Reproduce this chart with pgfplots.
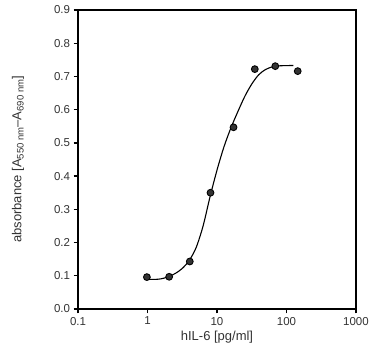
\documentclass[border=0pt]{standalone}
\usepackage{fontspec}
\setmainfont{Liberation Sans}
\usepackage{pgfplots}
\pgfplotsset{compat=1.18}
\definecolor{txt}{HTML}{333333}
\newcommand{\sub}[1]{\raisebox{-0.35ex}{\fontsize{9.5}{11}\selectfont #1}}
\begin{document}
\begin{tikzpicture}
\begin{axis}[
  at={(0,0)}, anchor=south west,
  scale only axis,
  width=278pt, height=299pt,
  xmode=log, log basis x=10,
  xmin=0.1, xmax=1000,
  ymin=0, ymax=0.9,
  xtick={0.1,1,10,100,1000},
  xticklabels={0.1,1,10,100,1000},
  minor xtick={},
  ytick={0,0.1,...,0.9},
  yticklabel style={/pgf/number format/.cd,fixed,fixed zerofill,precision=1},
  /pgf/number format/assume math mode=true,
  tick align=outside,
  xtick pos=bottom, ytick pos=left,
  major tick length=4.5pt,
  axis line style={line width=1.8pt},
  every tick/.style={line width=1.4pt, black},
  tick label style={font=\fontsize{11.5}{13}\selectfont, text=txt},
  label style={font=\fontsize{13}{15}\selectfont, text=txt},
  xlabel={hIL-6 [pg/ml]},
  ylabel={absorbance [A\sub{550 nm}–A\sub{690 nm}]},
  xlabel style={at={(axis description cs:0.5,-0.094)}, anchor=center},
  ylabel style={at={(axis description cs:-0.216,0.5)}, anchor=center},
  clip=false,
]
\addplot[black, line width=1.1pt, smooth, tension=0.5] coordinates {
  (0.92,0.090) (1.259,0.089) (1.585,0.091) (1.995,0.097) (2.512,0.107)
  (3.162,0.122) (3.981,0.146) (5.012,0.185) (6.310,0.250) (7.943,0.338)
  (10,0.418) (12.59,0.488) (15.85,0.545) (19.95,0.594) (25.12,0.640)
  (31.62,0.677) (39.81,0.705) (50.12,0.721) (63.10,0.729) (79.43,0.732)
  (125.9,0.733)
};
\addplot[only marks, mark=*, mark size=3.4pt,
  mark options={fill=black!80, draw=black, line width=0.9pt}] coordinates {
  (0.98,0.096) (2.05,0.097) (4.06,0.143) (8.06,0.350)
  (17.3,0.547) (35,0.722) (69,0.731) (145,0.716)
};
\end{axis}
\path (-78pt,-43pt) rectangle (296pt,309pt);
\end{tikzpicture}
\end{document}
